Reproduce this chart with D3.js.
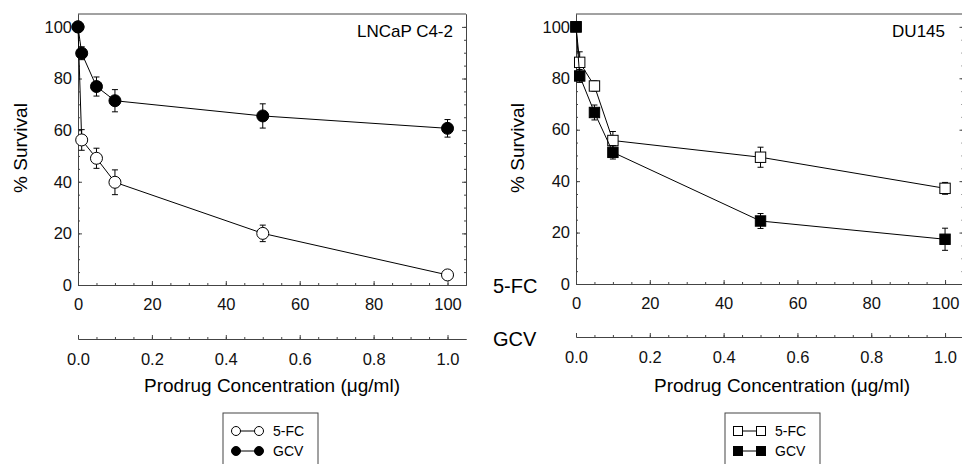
<!DOCTYPE html>
<html lang="en">
<head>
  <meta charset="UTF-8">
  <title>Prodrug survival</title>
  <style>
    body { margin: 0; background: #fff; }
    svg { font-family: "Liberation Sans", Arial, sans-serif; }
  </style>
</head>
<body>
  <svg id="svg" width="962" height="464"></svg>

  <script src="https://d3js.org/d3.v7.min.js"></script>
  <script>
    // ------ DATA ------------------------
    const fcDose = [0, 1, 5, 10, 50, 100]          // 5-FC, ug/ml
    const gcvDose = [0, 0.01, 0.05, 0.1, 0.5, 1.0] // GCV, ug/ml
    const fcTicks = [0, 20, 40, 60, 80, 100]
    const gcvTicks = [0, 0.2, 0.4, 0.6, 0.8, 1.0]
    const yTicks = [0, 20, 40, 60, 80, 100]

    const lncapFC = [100, 56.2, 49.1, 39.8, 20.0, 3.9]
    const lncapFCErr = [0, 4.0, 3.9, 4.8, 3.2, 0.8]
    const lncapGCV = [100, 89.8, 76.9, 71.4, 65.5, 60.7]
    const lncapGCVErr = [0, 2.5, 3.7, 4.3, 4.7, 3.4]

    const duFC = [100, 86.2, 77.0, 55.8, 49.3, 37.2]
    const duFCErr = [0, 4.1, 2.0, 3.5, 3.9, 2.3]
    const duGCV = [100, 80.9, 66.7, 51.2, 24.5, 17.4]
    const duGCVErr = [0, 2.5, 2.9, 2.6, 2.9, 4.3]

    const svg = d3.select('#svg')
    const frameColor = '#444'

    function drawPanel(p) {
      const x = d3.scaleLinear().domain([0, 105]).range([p.left, p.right])
      const xg = d3.scaleLinear().domain([0, 1.05]).range([p.left, p.right])
      const y = d3.scaleLinear().domain([0, 105]).range([p.bottom, p.top])
      const g = svg.append('g')

      // frame top line
      g.append('line')
        .attr('x1', p.left).attr('x2', p.right)
        .attr('y1', p.top).attr('y2', p.top)
        .attr('stroke', frameColor)

      // bottom axis (5-FC)
      const bottom = g.append('g').attr('transform', `translate(0,${p.bottom})`)
      bottom.call(d3.axisBottom(x).tickValues(d3.range(0, 105, 5)).tickSize(-2).tickSizeOuter(0).tickFormat(''))
      bottom.append('g').call(d3.axisBottom(x).tickValues(fcTicks).tickSize(-4).tickSizeOuter(0).tickPadding(13.5))
      // GCV axis
      const gaxis = g.append('g').attr('transform', `translate(0,${p.gcvY})`)
      gaxis.call(d3.axisBottom(xg).tickValues(d3.range(0, 1.05, 0.05)).tickSize(-2).tickSizeOuter(0).tickFormat(''))
      gaxis.append('g').call(d3.axisBottom(xg).tickValues(gcvTicks).tickSize(-4).tickSizeOuter(0)
        .tickPadding(14.5).tickFormat(d3.format('.1f')))

      // left + right axes
      const leftA = g.append('g').attr('transform', `translate(${p.left},0)`)
      leftA.call(d3.axisLeft(y).tickValues(d3.range(0, 105, 5)).tickSize(-2).tickSizeOuter(0).tickFormat(''))
      leftA.append('g').call(d3.axisLeft(y).tickValues(yTicks).tickSize(-4).tickSizeOuter(0).tickPadding(6))
      const rightA = g.append('g').attr('transform', `translate(${p.right},0)`)
      rightA.call(d3.axisRight(y).tickValues(d3.range(0, 105, 5)).tickSize(-2).tickSizeOuter(0).tickFormat(''))
      rightA.append('g').call(d3.axisRight(y).tickValues(yTicks).tickSize(-4).tickSizeOuter(0).tickFormat(''))

      g.selectAll('.domain').attr('stroke', frameColor)
      g.selectAll('.tick line').attr('stroke', frameColor)
      g.selectAll('.tick text').attr('font-size', 16.5).attr('fill', '#111')
        .attr('font-family', '"Liberation Sans", Arial, sans-serif')

      // series: 5-FC against 5-FC scale, GCV against GCV scale
      const series = [
        { dose: fcDose, sx: x, vals: p.fc, err: p.fcErr, fill: '#fff' },
        { dose: gcvDose, sx: xg, vals: p.gcv, err: p.gcvErr, fill: '#000' }
      ]
      series.forEach(s => {
        const pts = s.dose.map((d, i) => ({ x: s.sx(d), v: s.vals[i], e: s.err[i] }))
        g.append('path')
          .attr('d', d3.line().x(d => d.x).y(d => y(d.v))(pts))
          .attr('fill', 'none').attr('stroke', '#000').attr('stroke-width', 1)
        const eb = g.append('g').selectAll('g').data(pts.filter(d => d.e > 0)).join('g')
          .attr('stroke', '#000').attr('stroke-width', 1)
        eb.append('line').attr('x1', d => d.x).attr('x2', d => d.x)
          .attr('y1', d => y(d.v - d.e)).attr('y2', d => y(d.v + d.e))
        eb.append('line').attr('x1', d => d.x - 3).attr('x2', d => d.x + 3)
          .attr('y1', d => y(d.v + d.e)).attr('y2', d => y(d.v + d.e))
        eb.append('line').attr('x1', d => d.x - 3).attr('x2', d => d.x + 3)
          .attr('y1', d => y(d.v - d.e)).attr('y2', d => y(d.v - d.e))
        drawMarkers(g, pts.map(d => [d.x, y(d.v)]), p.shape, s.fill, p.shape === 'circle' ? 6 : 5.2)
      })

      // labels
      g.append('text').attr('x', p.nameX).attr('y', 37).attr('text-anchor', 'end')
        .attr('font-size', 17).text(p.name)
      g.append('text').attr('transform', `translate(${p.yTitleX},148) rotate(-90)`)
        .attr('text-anchor', 'middle').attr('font-size', 19).text('% Survival')
      g.append('text').attr('x', p.xTitleX).attr('y', 392).attr('text-anchor', 'middle')
        .attr('font-size', 19).text('Prodrug Concentration (\u03bcg/ml)')

      // legend
      const lg = g.append('g').attr('transform', `translate(${p.legX},413)`)
      lg.append('rect').attr('width', 95).attr('height', 60)
        .attr('fill', '#fff').attr('stroke', frameColor)
      const rows = [{ label: '5-FC', fill: '#fff' }, { label: 'GCV', fill: '#000' }]
      rows.forEach((r, i) => {
        const ry = 18 + i * 20
        lg.append('line').attr('x1', 13).attr('x2', 36).attr('y1', ry).attr('y2', ry).attr('stroke', '#000')
        drawMarkers(lg, [[13, ry], [36, ry]], p.shape, r.fill, 4.5)
        lg.append('text').attr('x', 50).attr('y', ry + 5).attr('font-size', 14).text(r.label)
      })
    }

    function drawMarkers(g, pts, shape, fill, r) {
      if (shape === 'circle') {
        g.append('g').selectAll('circle').data(pts).join('circle')
          .attr('cx', d => d[0]).attr('cy', d => d[1]).attr('r', r)
          .attr('fill', fill).attr('stroke', '#000').attr('stroke-width', 1)
      } else {
        g.append('g').selectAll('rect').data(pts).join('rect')
          .attr('x', d => d[0] - r).attr('y', d => d[1] - r)
          .attr('width', 2 * r).attr('height', 2 * r)
          .attr('fill', fill).attr('stroke', '#000').attr('stroke-width', 1)
      }
    }

    drawPanel({
      left: 78, right: 466, top: 14, bottom: 285, gcvY: 339,
      fc: lncapFC, fcErr: lncapFCErr, gcv: lncapGCV, gcvErr: lncapGCVErr,
      shape: 'circle', name: 'LNCaP C4-2', nameX: 453, yTitleX: 27, xTitleX: 272, legX: 223
    })
    drawPanel({
      left: 576, right: 963.5, top: 14, bottom: 284, gcvY: 337,
      fc: duFC, fcErr: duFCErr, gcv: duGCV, gcvErr: duGCVErr,
      shape: 'square', name: 'DU145', nameX: 945, yTitleX: 524, xTitleX: 782, legX: 725
    })

    // axis names between the panels
    svg.append('text').attr('x', 493).attr('y', 293).attr('font-size', 20).text('5-FC')
    svg.append('text').attr('x', 493).attr('y', 346).attr('font-size', 20).text('GCV')
  </script>
</body>
</html>
